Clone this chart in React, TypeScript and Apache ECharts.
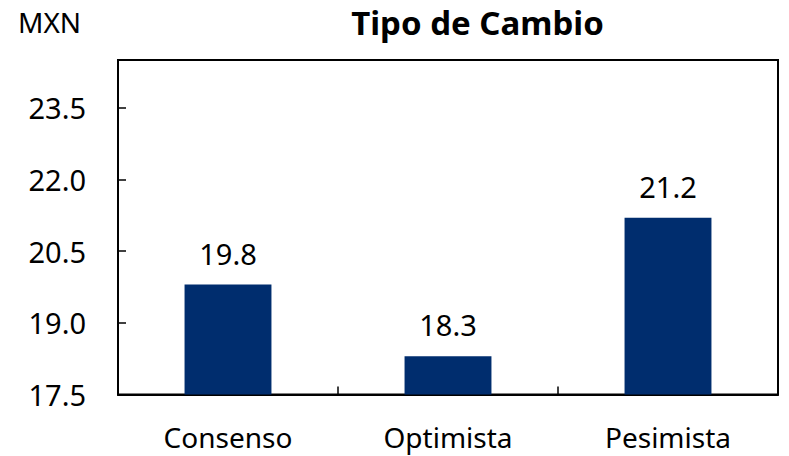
import React, { useEffect, useRef } from "react";
import * as echarts from "echarts";

const categories = ["Consenso", "Optimista", "Pesimista"];
const values = [19.8, 18.3, 21.2];
const yMin = 17.5;
const yMax = 24.5;
const yInterval = 1.5;
const titleText = "Tipo de Cambio";
const unitText = "MXN";

const FONT = "'Noto Sans', sans-serif";

export default function App() {
  const ref = useRef<HTMLDivElement>(null);
  useEffect(() => {
    if (!ref.current) return;
    const chart = echarts.init(ref.current, null, { renderer: "svg" });
    chart.setOption({
      animation: false,
      backgroundColor: "#ffffff",
      title: {
        text: titleText,
        left: 477.5,
        textAlign: "center",
        top: 6,
        padding: 0,
        textStyle: { fontFamily: FONT, fontSize: 33, fontWeight: "bold", color: "#000" },
      },
      graphic: [
        {
          type: "text",
          left: 18,
          top: 7.5,
          style: { text: unitText, fontFamily: FONT, fontSize: 28, fill: "#000" },
        },
      ],
      grid: {
        left: 118,
        right: 11,
        top: 60,
        bottom: 61.5,
        show: true,
        borderColor: "#000",
        borderWidth: 2,
        containLabel: false,
      },
      xAxis: {
        type: "category",
        data: categories,
        axisLine: { show: true, lineStyle: { color: "#000", width: 2 } },
        axisTick: { show: true, inside: true, length: 8, alignWithLabel: false, lineStyle: { color: "#000", width: 1.5 } },
        axisLabel: { fontFamily: FONT, fontSize: 28, color: "#000", margin: 28 },
        splitLine: { show: false },
      },
      yAxis: {
        type: "value",
        min: yMin,
        max: yMax,
        interval: yInterval,
        axisLine: { show: true, lineStyle: { color: "#000", width: 2 } },
        axisTick: { show: true, inside: true, length: 8, lineStyle: { color: "#000", width: 1.5 } },
        axisLabel: {
          fontFamily: FONT,
          fontSize: 29,
          color: "#000",
          margin: 32,
          showMaxLabel: false,
          formatter: (v: number) => v.toFixed(1),
        },
        splitLine: { show: false },
      },
      series: [
        {
          type: "bar",
          data: values,
          barWidth: "39.5%",
          itemStyle: { color: "#002D6E" },
          label: {
            show: true,
            position: "top",
            distance: 17,
            fontFamily: FONT,
            fontSize: 29,
            color: "#000",
            formatter: (p: any) => Number(p.value).toFixed(1),
          },
        },
      ],
    });
    return () => chart.dispose();
  }, []);
  return (
    <div
      ref={ref}
      style={{ position: "fixed", left: 0, top: 0, width: 789, height: 456 }}
    />
  );
}
